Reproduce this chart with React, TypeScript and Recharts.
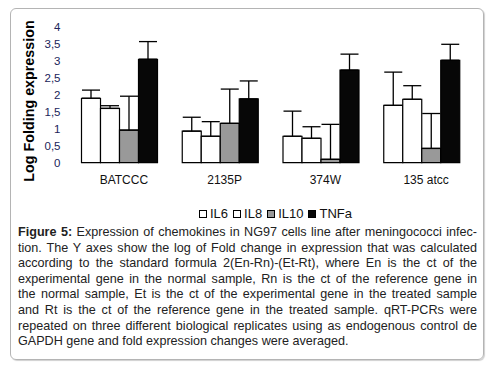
import { BarChart, Bar, XAxis, YAxis, ErrorBar } from "recharts";

const strains = ["BATCCC", "2135P", "374W", "135 atcc"];

// bar heights (log fold change) and upper error lengths
const il6 = [1.9, 0.93, 0.78, 1.69];
const il6Err = [0.24, 0.41, 0.74, 0.98];
const il8 = [1.6, 0.78, 0.72, 1.87];
const il8Err = [0.08, 0.43, 0.34, 0.4];
const il10 = [0.96, 1.16, 0.1, 0.42];
const il10Err = [1.0, 1.01, 1.03, 1.03];
const tnfa = [3.05, 1.88, 2.73, 3.02];
const tnfaErr = [0.52, 0.53, 0.47, 0.47];

const yTicks = [0, 0.5, 1, 1.5, 2, 2.5, 3, 3.5, 4];

const series = [
  { key: "IL6", fill: "#ffffff" },
  { key: "IL8", fill: "#ffffff" },
  { key: "IL10", fill: "#999999" },
  { key: "TNFa", fill: "#070707" },
];

const captionLines = [
  "Expression of chemokines in NG97 cells line after meningococci infec-",
  "tion. The Y axes show the log of Fold change in expression that was calculated",
  "according to the standard formula 2(En-Rn)-(Et-Rt), where En is the ct of the",
  "experimental gene in the normal sample, Rn is the ct of the reference gene in",
  "the normal sample, Et is the ct of the experimental gene in the treated sample",
  "and Rt is the ct of the reference gene in the treated sample. qRT-PCRs were",
  "repeated on three different biological replicates using as endogenous control de",
  "GAPDH gene and fold expression changes were averaged.",
];

const chartData = strains.map((name, i) => ({
  name,
  IL6: il6[i],
  IL6Err: [0, il6Err[i]],
  IL8: il8[i],
  IL8Err: [0, il8Err[i]],
  IL10: il10[i],
  IL10Err: [0, il10Err[i]],
  TNFa: tnfa[i],
  TNFaErr: [0, tnfaErr[i]],
}));

const font = "'Liberation Sans', Arial, sans-serif";

export default function App() {
  return (
    <div
      style={{
        position: "absolute",
        left: 0,
        top: 0,
        width: 494,
        height: 373,
        background: "#fff",
        fontFamily: font,
      }}
    >
      <div
        style={{
          position: "absolute",
          left: 10,
          top: 8,
          width: 472,
          height: 350,
          border: "1px solid #b4b4b4",
          borderRadius: 6,
          boxShadow: "1px 1px 1px #d0d0d0",
        }}
      />

      <div
        style={{
          position: "absolute",
          left: 29,
          top: 101,
          transform: "translate(-50%, -50%) rotate(-90deg)",
          transformOrigin: "center",
          whiteSpace: "nowrap",
          fontSize: 14.3,
          fontWeight: "bold",
          color: "#000",
        }}
      >
        Log Folding expression
      </div>

      <div style={{ position: "absolute", left: 0, top: 0 }}>
        <BarChart
          width={494}
          height={200}
          data={chartData}
          margin={{ top: 27, right: 22.5, bottom: 7.3, left: 8.5 }}
          barGap={0}
          barCategoryGap={13}
        >
          <XAxis
            dataKey="name"
            axisLine={false}
            tickLine={false}
            height={30}
            dx={5}
            dy={5}
            tick={{ fill: "#111", fontSize: 12, fontFamily: font }}
          />
          <YAxis
            domain={[0, 4]}
            ticks={yTicks}
            width={60}
            axisLine={false}
            tickLine={false}
            interval={0}
            tickFormatter={(v: number) => String(v).replace(".", ",")}
            tick={{ fill: "#20245a", fontSize: 11.5, fontFamily: font }}
          />
          {series.map((s) => (
            <Bar
              key={s.key}
              dataKey={s.key}
              fill={s.fill}
              stroke="#000"
              strokeWidth={1.2}
              isAnimationActive={false}
            >
              <ErrorBar
                dataKey={`${s.key}Err`}
                direction="y"
                width={9}
                stroke="#000"
                strokeWidth={1.3}
                isAnimationActive={false}
              />
            </Bar>
          ))}
        </BarChart>
      </div>

      <div
        style={{
          position: "absolute",
          left: 199,
          top: 206,
          display: "flex",
          alignItems: "center",
          fontSize: 13,
          color: "#111",
          whiteSpace: "nowrap",
        }}
      >
        {series.map((s) => (
          <span key={s.key} style={{ display: "flex", alignItems: "center", marginRight: 5 }}>
            <span
              style={{
                display: "inline-block",
                width: 6,
                height: 6,
                border: "1px solid #000",
                background: s.fill,
                marginRight: 3,
              }}
            />
            {s.key}
          </span>
        ))}
      </div>

      <div
        style={{
          position: "absolute",
          left: 18,
          top: 225,
          width: 459,
          fontSize: 12.6,
          lineHeight: "15.6px",
          color: "#222",
        }}
      >
        {captionLines.map((line, i) => (
          <div
            key={i}
            style={{
              textAlign: "justify",
              textAlignLast: i === captionLines.length - 1 ? "left" : "justify",
              whiteSpace: "nowrap",
            }}
          >
            {i === 0 && <b>Figure 5: </b>}
            {line}
          </div>
        ))}
      </div>
    </div>
  );
}
